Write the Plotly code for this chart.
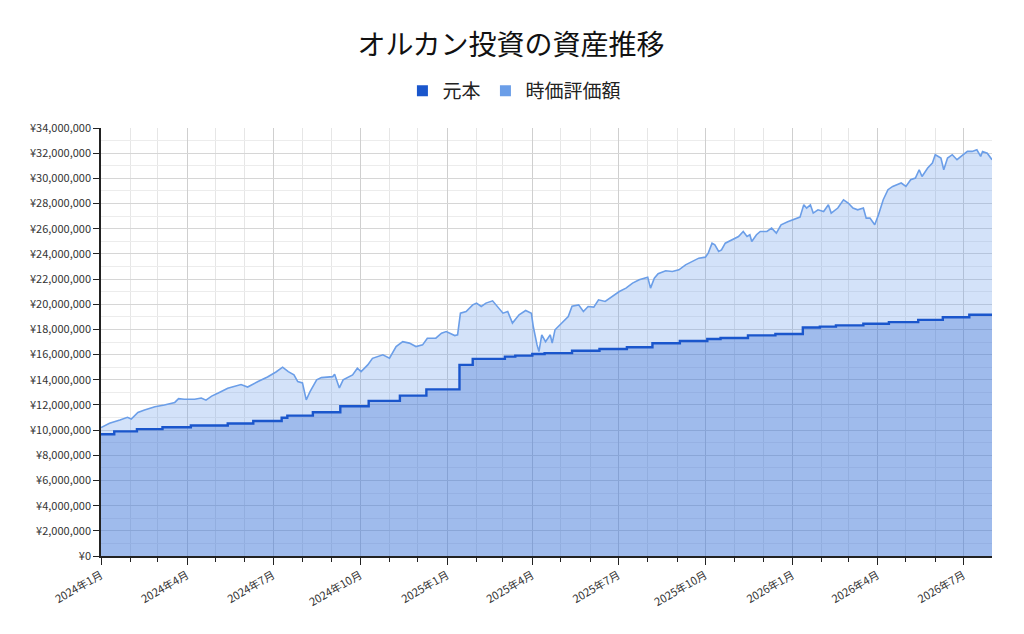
import plotly.graph_objects as go

# 時価評価額 (market value), in yen
value_dates = [
    '2024-01-01', '2024-01-10', '2024-01-21', '2024-01-29', '2024-02-02', '2024-02-09',
    '2024-02-16', '2024-02-27', '2024-03-08', '2024-03-19', '2024-03-23', '2024-03-29',
    '2024-04-09', '2024-04-16', '2024-04-21', '2024-04-27', '2024-05-04', '2024-05-14',
    '2024-05-28', '2024-06-04', '2024-06-15', '2024-06-25', '2024-07-04', '2024-07-11',
    '2024-07-17', '2024-07-23', '2024-07-27', '2024-08-01', '2024-08-05', '2024-08-09',
    '2024-08-16', '2024-08-21', '2024-09-02', '2024-09-04', '2024-09-09', '2024-09-13',
    '2024-09-23', '2024-09-28', '2024-10-02', '2024-10-09', '2024-10-14', '2024-10-25',
    '2024-11-01', '2024-11-08', '2024-11-15', '2024-11-22', '2024-11-29', '2024-12-06',
    '2024-12-11', '2024-12-20', '2024-12-26', '2024-12-31', '2025-01-09', '2025-01-12',
    '2025-01-15', '2025-01-21', '2025-01-28', '2025-02-01', '2025-02-06', '2025-02-11',
    '2025-02-18', '2025-02-23', '2025-03-01', '2025-03-06', '2025-03-11', '2025-03-18',
    '2025-03-25', '2025-03-31', '2025-04-02', '2025-04-06', '2025-04-08', '2025-04-11',
    '2025-04-15', '2025-04-20', '2025-04-22', '2025-04-25', '2025-05-02', '2025-05-09',
    '2025-05-13', '2025-05-20', '2025-05-25', '2025-05-30', '2025-06-05', '2025-06-10',
    '2025-06-17', '2025-06-24', '2025-07-02', '2025-07-09', '2025-07-16', '2025-07-23',
    '2025-07-30', '2025-08-01', '2025-08-04', '2025-08-08', '2025-08-12', '2025-08-20',
    '2025-08-27', '2025-09-03', '2025-09-10', '2025-09-17', '2025-09-24', '2025-10-01',
    '2025-10-04', '2025-10-08', '2025-10-11', '2025-10-15', '2025-10-18', '2025-10-22',
    '2025-10-29', '2025-11-05', '2025-11-10', '2025-11-14', '2025-11-17', '2025-11-19',
    '2025-11-24', '2025-11-28', '2025-12-05', '2025-12-10', '2025-12-15', '2025-12-20',
    '2025-12-27', '2026-01-04', '2026-01-09', '2026-01-13', '2026-01-16', '2026-01-20',
    '2026-01-23', '2026-01-28', '2026-02-03', '2026-02-08', '2026-02-11', '2026-02-18',
    '2026-02-24', '2026-03-01', '2026-03-06', '2026-03-11', '2026-03-17', '2026-03-20',
    '2026-03-24', '2026-03-29', '2026-04-02', '2026-04-07', '2026-04-12', '2026-04-17',
    '2026-04-22', '2026-04-26', '2026-05-01', '2026-05-06', '2026-05-11', '2026-05-15',
    '2026-05-18', '2026-05-24', '2026-05-29', '2026-06-01', '2026-06-07', '2026-06-10',
    '2026-06-14', '2026-06-19', '2026-06-24', '2026-06-30', '2026-07-05', '2026-07-10',
    '2026-07-15', '2026-07-19', '2026-07-21', '2026-07-26', '2026-07-31',
]
value_yen = [
    10200000, 10550000, 10810000, 11020000, 10880000, 11400000,
    11600000, 11850000, 12000000, 12200000, 12500000, 12450000,
    12450000, 12550000, 12380000, 12700000, 12950000, 13330000,
    13620000, 13420000, 13860000, 14220000, 14620000, 15000000,
    14650000, 14390000, 13860000, 13750000, 12400000, 13060000,
    13990000, 14170000, 14250000, 14440000, 13350000, 13990000,
    14390000, 14920000, 14650000, 15180000, 15700000, 15980000,
    15710000, 16640000, 17030000, 16910000, 16640000, 16770000,
    17300000, 17300000, 17700000, 17830000, 17510000, 17570000,
    19290000, 19420000, 19950000, 20090000, 19820000, 20090000,
    20270000, 19820000, 19290000, 19420000, 18500000, 19160000,
    19500000, 19290000, 18230000, 16770000, 16240000, 17570000,
    17030000, 17570000, 16910000, 17970000, 18500000, 19020000,
    19850000, 19950000, 19420000, 19820000, 19770000, 20350000,
    20220000, 20610000, 21010000, 21280000, 21680000, 21940000,
    22070000, 22150000, 21280000, 22070000, 22420000, 22660000,
    22600000, 22730000, 23130000, 23390000, 23660000, 23740000,
    24060000, 24850000, 24720000, 24190000, 24320000, 24850000,
    25120000, 25380000, 25780000, 25380000, 25520000, 24980000,
    25520000, 25780000, 25780000, 26050000, 25650000, 26310000,
    26550000, 26780000, 26920000, 27900000, 27640000, 27900000,
    27240000, 27500000, 27370000, 27900000, 27240000, 27640000,
    28300000, 28040000, 27640000, 27500000, 27640000, 26840000,
    26840000, 26310000, 27100000, 28300000, 29100000, 29360000,
    29490000, 29630000, 29360000, 29890000, 30020000, 30680000,
    30150000, 30820000, 31220000, 31880000, 31610000, 30680000,
    31610000, 31880000, 31480000, 31880000, 32140000, 32140000,
    32270000, 31740000, 32140000, 32000000, 31480000,
]

# 元本 (principal), step changes
principal_dates = [
    '2024-01-01', '2024-01-15', '2024-02-08', '2024-03-06', '2024-04-05', '2024-05-14',
    '2024-06-10', '2024-07-10', '2024-07-16', '2024-08-12', '2024-09-10', '2024-10-10',
    '2024-11-12', '2024-12-10', '2025-01-14', '2025-01-28', '2025-03-03', '2025-03-14',
    '2025-04-01', '2025-04-14', '2025-05-13', '2025-06-11', '2025-07-10', '2025-08-06',
    '2025-09-04', '2025-10-03', '2025-10-17', '2025-11-15', '2025-12-14', '2026-01-12',
    '2026-01-30', '2026-02-16', '2026-03-17', '2026-04-13', '2026-05-14', '2026-06-09',
    '2026-07-07', '2026-07-31',
]
principal_yen = [
    9670000, 9900000, 10080000, 10230000, 10370000, 10530000,
    10720000, 10980000, 11150000, 11420000, 11900000, 12320000,
    12740000, 13240000, 15180000, 15660000, 15840000, 15920000,
    16050000, 16120000, 16300000, 16440000, 16580000, 16900000,
    17080000, 17240000, 17320000, 17530000, 17630000, 18150000,
    18220000, 18320000, 18450000, 18580000, 18760000, 18970000,
    19160000, 19160000,
]

tick_dates = ['2024-01-01', '2024-04-01', '2024-07-01', '2024-10-01',
              '2025-01-01', '2025-04-01', '2025-07-01', '2025-10-01',
              '2026-01-01', '2026-04-01', '2026-07-01']
tick_labels = ['2024年1月', '2024年4月', '2024年7月', '2024年10月',
               '2025年1月', '2025年4月', '2025年7月', '2025年10月',
               '2026年1月', '2026年4月', '2026年7月']

PRINCIPAL = '#1a56cc'
VALUE = '#6b9ee8'
FONT = 'Noto Sans CJK JP'

fig = go.Figure()

fig.add_trace(go.Scatter(x=value_dates, y=value_yen, mode='lines', name='時価評価額',
                         line=dict(color=VALUE, width=1.6), fill='tozeroy',
                         fillcolor='rgba(110,160,235,0.3)', showlegend=False))
fig.add_trace(go.Scatter(x=principal_dates, y=principal_yen, mode='lines', name='元本',
                         line=dict(color=PRINCIPAL, width=2.4, shape='hv'), fill='tozeroy',
                         fillcolor='rgba(26,86,204,0.28)', showlegend=False))

# legend entries as squares
fig.add_trace(go.Scatter(x=[None], y=[None], mode='markers', name='元本',
                         marker=dict(symbol='square', size=11, color=PRINCIPAL)))
fig.add_trace(go.Scatter(x=[None], y=[None], mode='markers', name='時価評価額',
                         marker=dict(symbol='square', size=11, color=VALUE)))

# page body adds 8px, so the figure is laid out 8px up/left of the target
fig.update_layout(
    width=1024, height=634,
    margin=dict(l=93, r=40, t=120, b=86, autoexpand=False),
    paper_bgcolor='white', plot_bgcolor='white',
    font=dict(family=FONT, color='#333333'),
    title=dict(text='オルカン投資の資産推移', x=0.5 - 9 / 1024, xanchor='center',
               y=1 - 37 / 634, yanchor='middle',
               font=dict(family=FONT, size=28, color='#111111')),
    legend=dict(orientation='h', x=0.464, xanchor='center', y=1 + 37 / 428, yanchor='middle',
                font=dict(family=FONT, size=19, color='#222222'), itemwidth=30),
)

fig.update_xaxes(
    range=['2024-01-01', '2026-07-31'], type='date',
    tickvals=tick_dates, ticktext=tick_labels, tickangle=-30,
    tickfont=dict(size=11, color='#333333'),
    ticks='outside', ticklen=7, tickcolor='#222222',
    showline=True, linecolor='#222222', linewidth=1.5,
    showgrid=True, gridcolor='#cfcfcf', gridwidth=1,
    minor=dict(dtick='M1', tick0='2024-01-01', ticks='outside', ticklen=4,
               tickcolor='#222222', showgrid=True, gridcolor='#e6e6e6'),
    zeroline=False,
)
fig.update_yaxes(
    range=[0, 34000000], dtick=2000000, tickprefix='¥', tickformat=',d',
    tickfont=dict(size=11, color='#333333'),
    ticks='outside', ticklen=6, tickcolor='#222222',
    showline=True, linecolor='#222222', linewidth=1.5,
    showgrid=True, gridcolor='#d6d6d6', gridwidth=1,
    minor=dict(dtick=1000000, showgrid=True, gridcolor='#ececec'),
    zeroline=False,
)

fig.write_html('out.html')
